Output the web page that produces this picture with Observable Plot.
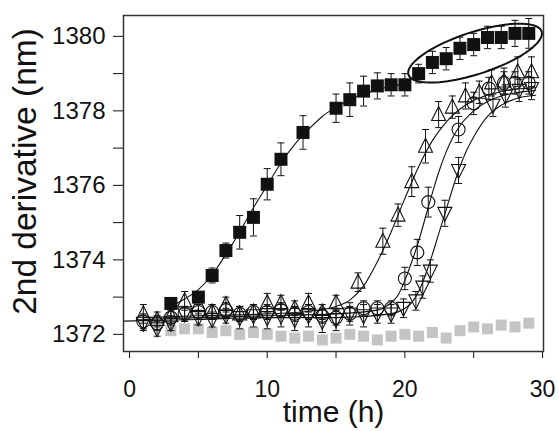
<!DOCTYPE html>
<html><head><meta charset="utf-8">
<script src="https://cdn.jsdelivr.net/npm/d3@7"></script>
<script src="https://cdn.jsdelivr.net/npm/@observablehq/plot@0.6"></script>
<style>body{margin:0;background:#fff;} #chart svg{display:block;}</style>
</head><body><div id="chart"></div>
<script>
// ---- data ----
const xTicks = [0, 5, 10, 15, 20, 25, 30];
const yTicks = [1372, 1373, 1374, 1375, 1376, 1377, 1378, 1379, 1380];
const xTitle = "time (h)";
const yTitle = "2nd derivative (nm)";

// filled squares
const sqT = [3,5,6,7,8,9,10,11,12.6,15,16,17,18,19,20,21,22,23,24,25,26,27,28,29];
const sqV = [1372.83,1373.0,1373.58,1374.25,1374.74,1375.14,1376.03,1376.7,1377.42,1378.07,1378.3,1378.53,1378.67,1378.7,1378.7,1379.0,1379.3,1379.4,1379.68,1379.78,1379.97,1379.97,1380.08,1380.08];
const sqE = [0.15,0.15,0.2,0.2,0.45,0.5,0.42,0.44,0.45,0.38,0.45,0.4,0.35,0.3,0.3,0.25,0.3,0.3,0.3,0.3,0.3,0.3,0.35,0.4];

// open up-triangles
const upT = [1,2,3,4,5,6,7,8,9,10,11,12,13,14,15,16.6,18.4,19.5,20.5,21.5,22.45,23.45,24.4,25.4,26.3,27.2,28.2,29.2];
const upV = [1372.55,1372.4,1372.5,1372.9,1372.8,1372.6,1372.8,1372.55,1372.6,1372.85,1372.85,1372.7,1372.85,1372.6,1372.85,1373.4,1374.5,1375.2,1376.1,1377.05,1377.9,1378.1,1378.4,1378.5,1378.75,1378.8,1379.05,1379.05];
const upE = [0.25,0.2,0.2,0.25,0.25,0.2,0.2,0.2,0.2,0.25,0.2,0.2,0.25,0.2,0.2,0.25,0.35,0.3,0.4,0.45,0.35,0.3,0.35,0.3,0.35,0.35,0.4,0.4];

// open circles
const ciT = [1,2,3,4,5,6,7,8,9,10,11,12,13,14,15,16,17,18,19,20,20.9,21.7,23.9,25,26.1,27.2,28,29];
const ciV = [1372.35,1372.3,1372.45,1372.55,1372.6,1372.6,1372.65,1372.55,1372.6,1372.6,1372.65,1372.55,1372.6,1372.5,1372.45,1372.55,1372.7,1372.7,1372.7,1373.5,1374.2,1375.55,1377.5,1378.2,1378.6,1378.75,1378.75,1378.75];
const ciE = [0.2,0.2,0.2,0.2,0.2,0.2,0.2,0.2,0.2,0.2,0.2,0.2,0.2,0.2,0.2,0.2,0.2,0.2,0.2,0.3,0.35,0.4,0.35,0.3,0.3,0.3,0.3,0.3];

// open down-triangles
const dnT = [1,2,3,4,5,6,7,8,9,10,11,12,13,14,15,16,17,18,19,19.9,20.8,21.3,21.85,22.9,23.9,26.4,27.3,28.3,29.2];
const dnV = [1372.3,1372.15,1372.3,1372.55,1372.45,1372.4,1372.5,1372.45,1372.5,1372.45,1372.5,1372.4,1372.5,1372.35,1372.4,1372.55,1372.5,1372.55,1372.55,1372.7,1372.9,1373.27,1373.7,1375.25,1376.4,1378.15,1378.4,1378.55,1378.6];
const dnE = [0.2,0.2,0.2,0.2,0.2,0.2,0.2,0.3,0.3,0.3,0.3,0.3,0.3,0.3,0.3,0.3,0.3,0.25,0.25,0.25,0.25,0.3,0.3,0.35,0.35,0.3,0.3,0.3,0.3];

// grey squares
const grT = [3,4,5,6,7,8,9,10,11,12,13,14,15,16,17,18,19,20,21,22,23,24,25,26,27,28,29];
const grV = [1372.1,1372.15,1372.15,1372.05,1372.1,1372.0,1372.05,1372.0,1371.95,1371.9,1371.95,1371.85,1371.9,1372.0,1371.95,1371.85,1371.95,1372.0,1371.95,1372.05,1371.9,1372.1,1372.2,1372.15,1372.25,1372.2,1372.3];

// fitted curves
const sqFitT = [3,4,5,6,7,8,9,10,11,12,13,14,15,16,17,18,19,20,20.4];
const sqFitV = [1372.75,1372.95,1373.2,1373.6,1374.15,1374.75,1375.4,1376.0,1376.6,1377.1,1377.5,1377.85,1378.1,1378.3,1378.45,1378.57,1378.66,1378.72,1378.74];
const upFitT = [1,5,10,13,15,16,17,18,19,20,21,22,23,24,25,26,27,28,29.5];
const upFitV = [1372.45,1372.5,1372.55,1372.62,1372.75,1372.92,1373.3,1373.95,1374.75,1375.65,1376.5,1377.2,1377.7,1378.05,1378.28,1378.42,1378.52,1378.58,1378.62];
const ciFitT = [1,5,10,15,18,19,19.5,20,20.5,21,21.5,22,22.5,23,23.5,24,25,26,27,28,29.5];
const ciFitV = [1372.4,1372.45,1372.5,1372.55,1372.65,1372.85,1373.05,1373.45,1373.95,1374.5,1375.15,1375.8,1376.4,1376.9,1377.3,1377.6,1378.0,1378.25,1378.4,1378.48,1378.55];
const dnFitT = [-1,5,10,15,19,20,20.5,21,21.5,22,22.5,23,23.5,24,24.5,25,26,27,28,29.5];
const dnFitV = [1372.35,1372.4,1372.45,1372.45,1372.55,1372.7,1372.85,1373.15,1373.6,1374.15,1374.75,1375.35,1375.95,1376.5,1376.95,1377.3,1377.85,1378.15,1378.32,1378.42];

// highlight ellipse: centre (data), semi-axes (px), tilt (deg)
const ellCenter = [25.1, 1379.55];
const ellAxes = [70, 21];
const ellTilt = -18;

// ---- layout ----
const W = 559, H = 431, mL = 123, mR = 16, mT = 15, mB = 80;
const xDomain = [-0.44, 30.07], yDomain = [1371.54, 1380.56];
const kx = (W - mL - mR) / (xDomain[1] - xDomain[0]);
const ky = (H - mT - mB) / (yDomain[1] - yDomain[0]);
const yTitleAt = yDomain[1] - (171 - mT) / ky;   // vertical centre of the y title

const rows = (t, v, e) => t.map((x, i) => ({t: x, v: v[i], e: e ? e[i] : 0}));
const sq = rows(sqT, sqV, sqE), up = rows(upT, upV, upE), ci = rows(ciT, ciV, ciE), dn = rows(dnT, dnV, dnE), gr = rows(grT, grV);
const fits = [rows(sqFitT, sqFitV), rows(upFitT, upFitV), rows(ciFitT, ciFitV), rows(dnFitT, dnFitV)];

const ell = d3.range(0, 361, 4).map(a => {
  const p = a * Math.PI / 180, th = ellTilt * Math.PI / 180;
  const px = ellAxes[0] * Math.cos(p) * Math.cos(th) - ellAxes[1] * Math.sin(p) * Math.sin(th);
  const py = ellAxes[0] * Math.cos(p) * Math.sin(th) + ellAxes[1] * Math.sin(p) * Math.cos(th);
  return {t: ellCenter[0] + px / kx, v: ellCenter[1] - py / ky};
});

const rad = s => Math.sqrt(s / Math.PI);
const capSym = {draw(c, s) { const r = rad(s); c.moveTo(-r, 0); c.lineTo(r, 0); }};
const upSym = {draw(c, s) { const r = rad(s); c.moveTo(0, -r * 1.15); c.lineTo(r, r * 0.85); c.lineTo(-r, r * 0.85); c.closePath(); }};
const dnSym = {draw(c, s) { const r = rad(s); c.moveTo(0, r * 1.15); c.lineTo(r, -r * 0.85); c.lineTo(-r, -r * 0.85); c.closePath(); }};
const sqSym = {draw(c, s) { const r = rad(s); c.rect(-r, -r, 2 * r, 2 * r); }};

const ink = "#111";
const errMarks = d => [
  Plot.ruleX(d, {x: "t", y1: r => r.v - r.e, y2: r => r.v + r.e, stroke: ink, strokeWidth: 1}),
  Plot.dot(d, {x: "t", y: r => r.v + r.e, symbol: capSym, r: 3.5, stroke: ink, strokeWidth: 1}),
  Plot.dot(d, {x: "t", y: r => r.v - r.e, symbol: capSym, r: 3.5, stroke: ink, strokeWidth: 1})
];

const chart = Plot.plot({
  width: W, height: H,
  marginLeft: mL, marginRight: mR, marginTop: mT, marginBottom: mB,
  style: {fontFamily: "'Liberation Sans', Arial, sans-serif", background: "#fff", color: "#111"},
  x: {domain: xDomain},
  y: {domain: yDomain},
  marks: [
    Plot.dot(gr, {x: "t", y: "v", symbol: sqSym, r: 5.5, fill: "#c4c4c4"}),
    ...fits.map(f => Plot.line(f, {x: "t", y: "v", curve: "monotone-x", stroke: ink, strokeWidth: 1.1, clip: true})),
    Plot.line(ell, {x: "t", y: "v", curve: "linear-closed", stroke: ink, strokeWidth: 2}),
    ...errMarks(up), ...errMarks(ci), ...errMarks(dn), ...errMarks(sq),
    Plot.dot(up, {x: "t", y: "v", symbol: upSym, r: 7, stroke: ink, strokeWidth: 1.1, fill: "none"}),
    Plot.dot(ci, {x: "t", y: "v", symbol: "circle", r: 6.5, stroke: ink, strokeWidth: 1.1, fill: "none"}),
    Plot.dot(dn, {x: "t", y: "v", symbol: dnSym, r: 7, stroke: ink, strokeWidth: 1.1, fill: "none"}),
    Plot.dot(sq, {x: "t", y: "v", symbol: sqSym, r: 6.5, fill: ink, stroke: "none"}),
    Plot.axisX({ticks: xTicks, tickSize: 7, tickPadding: 22, tickFormat: d => d % 10 === 0 ? String(d) : "", fontSize: 23, label: null}),
    Plot.axisY({ticks: yTicks, tickSize: 10, tickPadding: 8, tickFormat: d => d % 2 === 0 ? String(d) : "", fontSize: 24, label: null}),
    Plot.text([yTitle], {text: d => d, x: () => xDomain[0], y: () => yTitleAt, rotate: -90, dx: -98, fontSize: 33.5, lineAnchor: "middle", textAnchor: "middle"}),
    Plot.frame({stroke: "#333", strokeWidth: 1.5}),
    Plot.text([xTitle], {text: d => d, frameAnchor: "bottom", dy: 61, fontSize: 30, lineAnchor: "middle"})
  ]
});
document.getElementById("chart").appendChild(chart);
</script>
</body></html>
